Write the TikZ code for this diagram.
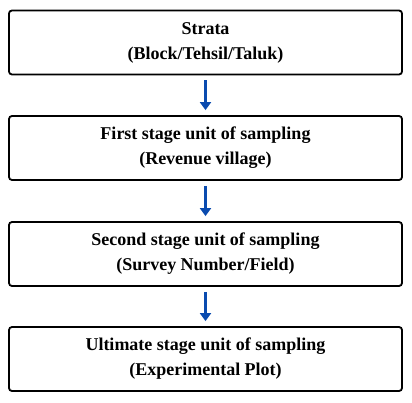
\documentclass[tikz,border=0pt]{standalone}
\usepackage{fontspec}
\setmainfont{Liberation Serif}
\usetikzlibrary{arrows.meta}
\definecolor{arrowblue}{RGB}{10,75,175}
\begin{document}
\begin{tikzpicture}[x=1pt,y=1pt,
  stagebox/.style={draw=black, line width=1.8pt, rounded corners=3pt, minimum width=393pt, minimum height=64pt, align=center, font=\fontsize{18}{25}\selectfont\bfseries, inner sep=0pt},
  flowarrow/.style={draw=arrowblue, line width=2.6pt, -{Triangle[length=8pt,width=11pt]}, shorten <=5pt, shorten >=5pt}]
\useasboundingbox (0,0) rectangle (412,402);
\node[stagebox] (s1) at (205.5,359.5) {Strata\\(Block/Tehsil/Taluk)};
\node[stagebox] (s2) at (205.5,254) {First stage unit of sampling\\(Revenue village)};
\node[stagebox] (s3) at (205.5,148) {Second stage unit of sampling\\(Survey Number/Field)};
\node[stagebox] (s4) at (205.5,43) {Ultimate stage unit of sampling\\(Experimental Plot)};
\draw[flowarrow] (s1) -- (s2);
\draw[flowarrow] (s2) -- (s3);
\draw[flowarrow] (s3) -- (s4);
\end{tikzpicture}
\end{document}
